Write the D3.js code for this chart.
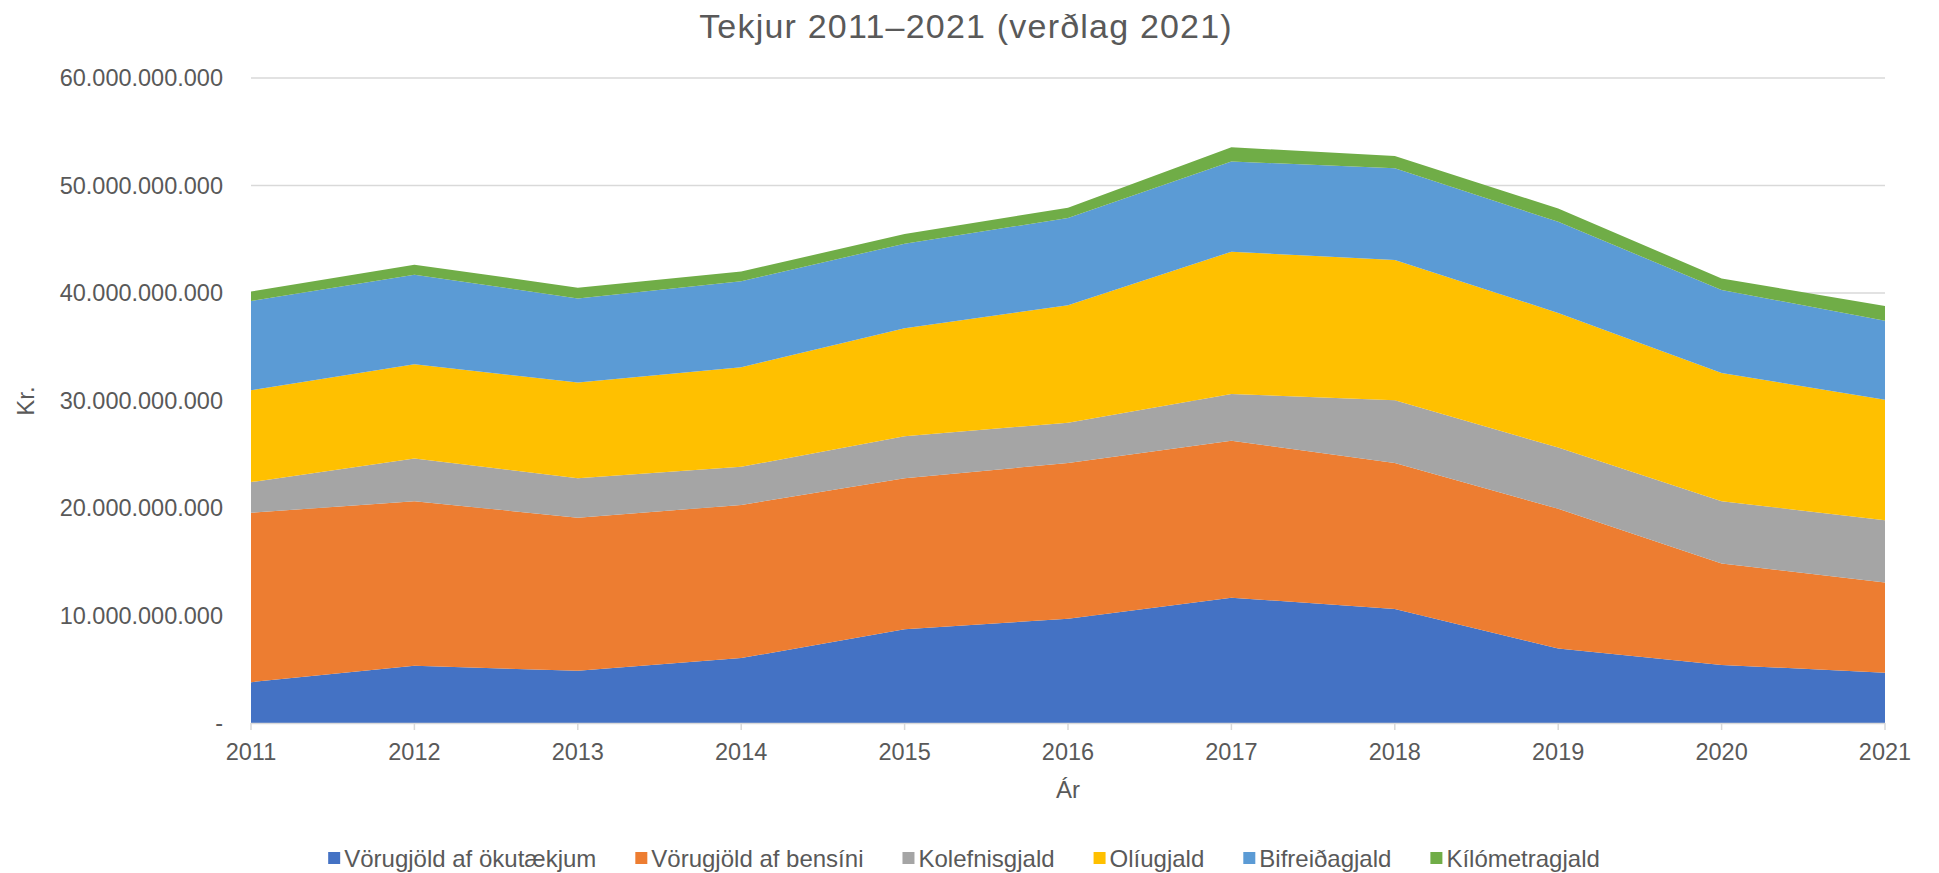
<!DOCTYPE html>
<html>
<head>
<meta charset="utf-8">
<script src="https://cdn.jsdelivr.net/npm/d3@7"></script>
<style>
  html, body { margin: 0; padding: 0; background: #ffffff; }
  svg { display: block; font-family: "Liberation Sans", Arial, sans-serif; }
</style>
</head>
<body>
<svg id="chart" width="1939" height="873"></svg>
<script>
// ---- Data (values in billions of ISK) ----
const years = [2011, 2012, 2013, 2014, 2015, 2016, 2017, 2018, 2019, 2020, 2021];
const seriesNames = ["Vörugjöld af ökutækjum", "Vörugjöld af bensíni", "Kolefnisgjald", "Olíugjald", "Bifreiðagjald", "Kílómetragjald"];
const vorugjoldOkutaekjum = [3.80, 5.32, 4.86, 6.04, 8.71, 9.70, 11.66, 10.60, 6.92, 5.40, 4.68];
const vorugjoldBensini    = [15.76, 15.31, 14.24, 14.24, 14.05, 14.49, 14.59, 13.59, 13.00, 9.43, 8.40];
const kolefnisgjald       = [2.85, 3.98, 3.66, 3.55, 3.92, 3.74, 4.35, 5.84, 5.70, 5.80, 5.77];
const oliugjald           = [8.55, 8.77, 8.91, 9.26, 10.05, 10.93, 13.24, 13.03, 12.53, 11.93, 11.22];
const bifreidagjald       = [8.29, 8.32, 7.83, 8.01, 7.86, 8.12, 8.40, 8.54, 8.47, 7.72, 7.36];
const kilometragjald      = [0.89, 0.93, 1.00, 0.90, 0.89, 0.96, 1.32, 1.14, 1.24, 1.07, 1.36];
const yTicks = [0, 10, 20, 30, 40, 50, 60];
const colors = ["#4472C4", "#ED7D31", "#A5A5A5", "#FFC000", "#5B9BD5", "#70AD47"];

const seriesValues = [vorugjoldOkutaekjum, vorugjoldBensini, kolefnisgjald, oliugjald, bifreidagjald, kilometragjald];
const table = years.map((y, i) => {
  const row = { year: y };
  seriesNames.forEach((n, k) => row[n] = seriesValues[k][i]);
  return row;
});

const svg = d3.select("#chart");
const textColor = "#595959";
const gridColor = "#d9d9d9";

const x = d3.scalePoint().domain(years).range([251, 1885]);
const y = d3.scaleLinear().domain([0, 60]).range([723, 78]);

const loc = d3.formatLocale({ decimal: ",", thousands: ".", grouping: [3], currency: ["", " kr."] });
const fmt = loc.format(",.0f");

// Gridlines
svg.append("g").selectAll("line").data(yTicks.filter(d => d > 0)).join("line")
  .attr("x1", x(2011)).attr("x2", x(2021))
  .attr("y1", d => y(d)).attr("y2", d => y(d))
  .attr("stroke", gridColor).attr("stroke-width", 1.5);

// Areas
const stack = d3.stack().keys(seriesNames);
const layers = stack(table);
const area = d3.area()
  .x(d => x(d.data.year))
  .y0(d => y(d[0]))
  .y1(d => y(d[1]));
svg.append("g").selectAll("path").data(layers).join("path")
  .attr("d", area)
  .attr("fill", (d, i) => colors[i]);

// X axis line and ticks
svg.append("line")
  .attr("x1", x(2011)).attr("x2", x(2021))
  .attr("y1", y(0) + 0.5).attr("y2", y(0) + 0.5)
  .attr("stroke", gridColor).attr("stroke-width", 1.5);
svg.append("g").selectAll("line").data(years).join("line")
  .attr("x1", d => x(d)).attr("x2", d => x(d))
  .attr("y1", y(0)).attr("y2", y(0) + 7)
  .attr("stroke", gridColor).attr("stroke-width", 1.5);

// X tick labels
svg.append("g").selectAll("text").data(years).join("text")
  .attr("x", d => x(d)).attr("y", 760)
  .attr("text-anchor", "middle")
  .attr("font-size", 23.5).attr("fill", textColor)
  .text(d => d);

// Y tick labels
svg.append("g").selectAll("text").data(yTicks).join("text")
  .attr("x", 223).attr("y", d => y(d) + 8)
  .attr("text-anchor", "end")
  .attr("font-size", 23.5).attr("fill", textColor)
  .text(d => d === 0 ? "-" : fmt(d * 1e9));

// Title
svg.append("text")
  .attr("x", 966).attr("y", 38)
  .attr("text-anchor", "middle")
  .attr("font-size", 34).attr("letter-spacing", 1.2).attr("fill", textColor)
  .text("Tekjur 2011–2021 (verðlag 2021)");

// Axis titles
svg.append("text")
  .attr("x", (x(2011) + x(2021)) / 2).attr("y", 798)
  .attr("text-anchor", "middle")
  .attr("font-size", 24).attr("fill", textColor)
  .text("Ár");
svg.append("text")
  .attr("transform", "translate(34,401) rotate(-90)")
  .attr("text-anchor", "middle")
  .attr("font-size", 24).attr("fill", textColor)
  .text("Kr.");

// Legend
const legend = svg.append("g");
const legendGap = 39;
let cx = 0;
seriesNames.forEach((n, i) => {
  const g = legend.append("g").attr("transform", `translate(${cx},0)`);
  g.append("rect").attr("x", 0).attr("y", -6).attr("width", 12).attr("height", 12).attr("fill", colors[i]);
  const t = g.append("text").attr("x", 16).attr("y", 8.5)
    .attr("font-size", 24).attr("fill", textColor).text(n);
  cx += 16 + t.node().getComputedTextLength() + legendGap;
});
const legendW = cx - legendGap;
legend.attr("transform", `translate(${964 - legendW / 2},858)`);
</script>
</body>
</html>
